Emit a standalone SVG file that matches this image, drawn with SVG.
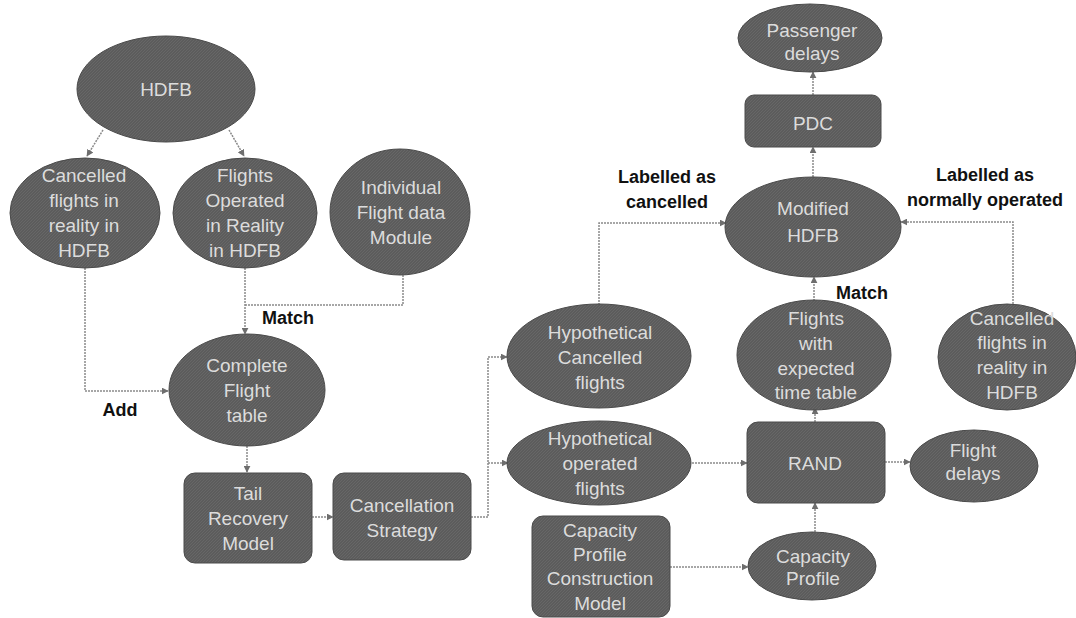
<svg xmlns="http://www.w3.org/2000/svg" width="1076" height="618" viewBox="0 0 1076 618">
<defs>
<marker id="arr" viewBox="0 0 10 10" refX="9" refY="5" markerWidth="7" markerHeight="7" markerUnits="userSpaceOnUse" orient="auto">
<path d="M0,0 L10,5 L0,10 z" fill="#6e6e6e"/>
</marker>
<pattern id="hatch" width="3" height="3" patternUnits="userSpaceOnUse">
<rect width="3" height="3" fill="#5c5c5c"/>
<path d="M0,3 L3,0" stroke="#6a6a6a" stroke-width="0.8"/>
</pattern>
</defs>
<style>
.node{fill:url(#hatch);stroke:#4a4a4a;stroke-width:1}
.t{font-family:"Liberation Sans",Arial,sans-serif;font-size:19px;fill:#dcdcdc;text-anchor:middle}
.lbl{font-family:"Liberation Sans",Arial,sans-serif;font-size:18px;font-weight:bold;fill:#111;text-anchor:middle}
.c{fill:none;stroke:#8a8a8a;stroke-width:1.5;stroke-dasharray:2 1}
.a{marker-end:url(#arr)}
</style>
<rect width="1076" height="618" fill="#ffffff"/>

<g id="connectors">
<path class="c a" d="M103,130 L87,156"/>
<path class="c a" d="M229,130 L244,156"/>
<path class="c a" d="M245,268 V334"/>
<path class="c" d="M403,275 V305 H245"/>
<path class="c a" d="M85,268 V391 H168"/>
<path class="c a" d="M247,446 V472"/>
<path class="c a" d="M312,517 H333"/>
<path class="c a" d="M471,517 H488 V357 H507"/>
<path class="c a" d="M488,463 H508"/>
<path class="c a" d="M599,305 V223 H726"/>
<path class="c a" d="M692,463 H747"/>
<path class="c a" d="M885,462 H910"/>
<path class="c a" d="M815,422 V408"/>
<path class="c a" d="M814,301 V277"/>
<path class="c a" d="M1013,304 V222 H901"/>
<path class="c a" d="M813,177 V147"/>
<path class="c a" d="M813,95 V72"/>
<path class="c a" d="M670,567 H748"/>
<path class="c a" d="M815,532 V503"/>
</g>

<g id="labels">
<text class="lbl" x="288" y="324">Match</text>
<text class="lbl" x="120" y="416">Add</text>
<text class="lbl" x="667" y="183">Labelled as</text>
<text class="lbl" x="667" y="208">cancelled</text>
<text class="lbl" x="985" y="181">Labelled as</text>
<text class="lbl" x="985" y="206">normally operated</text>
<text class="lbl" x="862" y="299">Match</text>
</g>

<g id="hdfb">
<ellipse class="node" cx="166" cy="89" rx="89" ry="53"/>
<text class="t" x="166" y="96">HDFB</text>
</g>
<g id="cancelled-left">
<ellipse class="node" cx="85" cy="213" rx="75" ry="55"/>
<text class="t" x="84" y="182">Cancelled</text>
<text class="t" x="84" y="207">flights in</text>
<text class="t" x="84" y="232">reality in</text>
<text class="t" x="84" y="257">HDFB</text>
</g>
<g id="flights-operated">
<ellipse class="node" cx="245" cy="213" rx="72" ry="55"/>
<text class="t" x="245" y="182">Flights</text>
<text class="t" x="245" y="207">Operated</text>
<text class="t" x="245" y="232">in Reality</text>
<text class="t" x="245" y="257">in HDFB</text>
</g>
<g id="individual">
<ellipse class="node" cx="400" cy="212" rx="70" ry="63"/>
<text class="t" x="401" y="194">Individual</text>
<text class="t" x="401" y="219">Flight data</text>
<text class="t" x="401" y="244">Module</text>
</g>
<g id="complete">
<ellipse class="node" cx="247" cy="390" rx="78" ry="56"/>
<text class="t" x="247" y="372">Complete</text>
<text class="t" x="247" y="397">Flight</text>
<text class="t" x="247" y="422">table</text>
</g>
<g id="tail">
<rect class="node" x="184" y="473" width="128" height="90" rx="11"/>
<text class="t" x="248" y="500">Tail</text>
<text class="t" x="248" y="525">Recovery</text>
<text class="t" x="248" y="550">Model</text>
</g>
<g id="cancellation">
<rect class="node" x="333" y="473" width="138" height="87" rx="11"/>
<text class="t" x="402" y="512">Cancellation</text>
<text class="t" x="402" y="537">Strategy</text>
</g>
<g id="hyp-cancelled">
<ellipse class="node" cx="599" cy="356" rx="92" ry="52"/>
<text class="t" x="600" y="339">Hypothetical</text>
<text class="t" x="600" y="364">Cancelled</text>
<text class="t" x="600" y="389">flights</text>
</g>
<g id="hyp-operated">
<ellipse class="node" cx="599" cy="463" rx="92" ry="42"/>
<text class="t" x="600" y="445">Hypothetical</text>
<text class="t" x="600" y="470">operated</text>
<text class="t" x="600" y="495">flights</text>
</g>
<g id="modified">
<ellipse class="node" cx="813" cy="227" rx="88" ry="50"/>
<text class="t" x="813" y="215">Modified</text>
<text class="t" x="813" y="242">HDFB</text>
</g>
<g id="pdc">
<rect class="node" x="745" y="95" width="136" height="52" rx="9"/>
<text class="t" x="813" y="130">PDC</text>
</g>
<g id="passenger">
<ellipse class="node" cx="810" cy="38" rx="72" ry="34"/>
<text class="t" x="812" y="37">Passenger</text>
<text class="t" x="812" y="60">delays</text>
</g>
<g id="flights-expected">
<ellipse class="node" cx="814" cy="355" rx="77" ry="55"/>
<text class="t" x="816" y="325">Flights</text>
<text class="t" x="816" y="350">with</text>
<text class="t" x="816" y="375">expected</text>
<text class="t" x="816" y="399">time table</text>
</g>
<g id="cancelled-right">
<ellipse class="node" cx="1007" cy="357" rx="69" ry="53"/>
<text class="t" x="1012" y="325">Cancelled</text>
<text class="t" x="1012" y="349">flights in</text>
<text class="t" x="1012" y="374">reality in</text>
<text class="t" x="1012" y="399">HDFB</text>
</g>
<g id="rand">
<rect class="node" x="747" y="422" width="138" height="81" rx="11"/>
<text class="t" x="815" y="470">RAND</text>
</g>
<g id="flight-delays">
<ellipse class="node" cx="974" cy="466" rx="64" ry="36"/>
<text class="t" x="973" y="457">Flight</text>
<text class="t" x="973" y="480">delays</text>
</g>
<g id="cpcm">
<rect class="node" x="532" y="516" width="138" height="101" rx="11"/>
<text class="t" x="600" y="537">Capacity</text>
<text class="t" x="600" y="561">Profile</text>
<text class="t" x="600" y="585">Construction</text>
<text class="t" x="600" y="610">Model</text>
</g>
<g id="capacity-profile">
<ellipse class="node" cx="812" cy="566" rx="64" ry="34"/>
<text class="t" x="813" y="563">Capacity</text>
<text class="t" x="813" y="585">Profile</text>
</g>
</svg>
